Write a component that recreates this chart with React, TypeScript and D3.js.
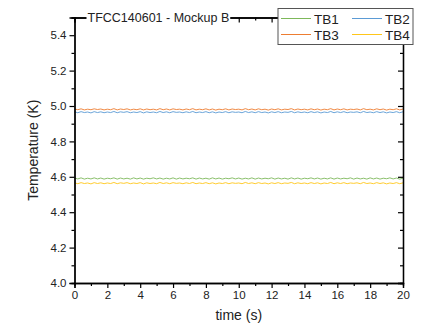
import * as d3 from "d3";
import { useEffect, useRef } from "react";

// sampled every 0.2 s from 0 to 20 s
const timeStep = 0.2;

const tb1 = [
  4.593, 4.588, 4.594, 4.587, 4.592, 4.588, 4.594, 4.588, 4.593, 4.587,
  4.592, 4.589, 4.594, 4.587, 4.593, 4.588, 4.592, 4.587, 4.594, 4.588,
  4.593, 4.587, 4.592, 4.589, 4.594, 4.588, 4.593, 4.587, 4.592, 4.588,
  4.594, 4.587, 4.593, 4.588, 4.592, 4.589, 4.594, 4.587, 4.593, 4.588,
  4.592, 4.587, 4.594, 4.588, 4.593, 4.587, 4.592, 4.589, 4.594, 4.588,
  4.593, 4.587, 4.592, 4.588, 4.594, 4.587, 4.593, 4.588, 4.592, 4.589,
  4.594, 4.587, 4.593, 4.588, 4.592, 4.587, 4.594, 4.588, 4.593, 4.587,
  4.592, 4.589, 4.594, 4.588, 4.593, 4.587, 4.592, 4.588, 4.594, 4.587,
  4.593, 4.588, 4.592, 4.589, 4.594, 4.587, 4.593, 4.588, 4.592, 4.587,
  4.594, 4.588, 4.593, 4.587, 4.592, 4.589, 4.594, 4.588, 4.593, 4.587,
  4.592,
];

const tb2 = [
  4.967, 4.962, 4.968, 4.963, 4.966, 4.961, 4.968, 4.963, 4.967, 4.962,
  4.966, 4.963, 4.969, 4.962, 4.967, 4.964, 4.968, 4.962, 4.966, 4.963,
  4.968, 4.961, 4.967, 4.963, 4.966, 4.962, 4.969, 4.963, 4.967, 4.962,
  4.968, 4.964, 4.966, 4.962, 4.967, 4.963, 4.969, 4.962, 4.966, 4.963,
  4.968, 4.962, 4.967, 4.961, 4.966, 4.963, 4.968, 4.962, 4.967, 4.964,
  4.966, 4.962, 4.969, 4.963, 4.967, 4.962, 4.968, 4.963, 4.966, 4.961,
  4.967, 4.963, 4.968, 4.962, 4.966, 4.964, 4.969, 4.962, 4.967, 4.963,
  4.966, 4.962, 4.968, 4.963, 4.967, 4.961, 4.966, 4.963, 4.969, 4.962,
  4.967, 4.963, 4.968, 4.962, 4.966, 4.964, 4.967, 4.962, 4.969, 4.963,
  4.966, 4.962, 4.968, 4.963, 4.967, 4.961, 4.966, 4.963, 4.968, 4.962,
  4.967,
];

const tb3 = [
  4.983, 4.979, 4.984, 4.978, 4.982, 4.979, 4.984, 4.980, 4.983, 4.978,
  4.982, 4.979, 4.985, 4.978, 4.983, 4.980, 4.984, 4.978, 4.982, 4.979,
  4.984, 4.978, 4.983, 4.979, 4.982, 4.978, 4.985, 4.979, 4.983, 4.978,
  4.984, 4.980, 4.982, 4.978, 4.983, 4.979, 4.985, 4.978, 4.982, 4.979,
  4.984, 4.978, 4.983, 4.977, 4.982, 4.979, 4.984, 4.978, 4.983, 4.980,
  4.982, 4.978, 4.985, 4.979, 4.983, 4.978, 4.984, 4.979, 4.982, 4.977,
  4.983, 4.979, 4.984, 4.978, 4.982, 4.980, 4.985, 4.978, 4.983, 4.979,
  4.982, 4.978, 4.984, 4.979, 4.983, 4.977, 4.982, 4.979, 4.985, 4.978,
  4.983, 4.979, 4.984, 4.978, 4.982, 4.980, 4.983, 4.978, 4.985, 4.979,
  4.982, 4.978, 4.984, 4.979, 4.983, 4.977, 4.982, 4.979, 4.984, 4.978,
  4.983,
];

const tb4 = [
  4.566, 4.561, 4.567, 4.562, 4.565, 4.560, 4.567, 4.562, 4.566, 4.561,
  4.565, 4.562, 4.568, 4.561, 4.566, 4.563, 4.567, 4.561, 4.565, 4.562,
  4.567, 4.560, 4.566, 4.562, 4.565, 4.561, 4.568, 4.562, 4.566, 4.561,
  4.567, 4.563, 4.565, 4.561, 4.566, 4.562, 4.568, 4.561, 4.565, 4.562,
  4.567, 4.561, 4.566, 4.560, 4.565, 4.562, 4.567, 4.561, 4.566, 4.563,
  4.565, 4.561, 4.568, 4.562, 4.566, 4.561, 4.567, 4.562, 4.565, 4.560,
  4.566, 4.562, 4.567, 4.561, 4.565, 4.563, 4.568, 4.561, 4.566, 4.562,
  4.565, 4.561, 4.567, 4.562, 4.566, 4.560, 4.565, 4.562, 4.568, 4.561,
  4.566, 4.562, 4.567, 4.561, 4.565, 4.563, 4.566, 4.561, 4.568, 4.562,
  4.565, 4.561, 4.567, 4.562, 4.566, 4.560, 4.565, 4.562, 4.567, 4.561,
  4.566,
];

const seriesNames = ["TB1", "TB2", "TB3", "TB4"];
const seriesColors = ["#7DB85A", "#5B9BD5", "#ED7D31", "#FFC61A"];
const xTicks = [0, 2, 4, 6, 8, 10, 12, 14, 16, 18, 20];
const yTicks = [4.0, 4.2, 4.4, 4.6, 4.8, 5.0, 5.2, 5.4];
const plotTitle = "TFCC140601 - Mockup B";

const W = 433;
const H = 325;
const FONT = "'Liberation Sans', Arial, sans-serif";

const App = () => {
  const ref = useRef<SVGSVGElement>(null);

  useEffect(() => {
    const margin = { top: 17.5, right: 30, bottom: 42, left: 74.5 },
      width = W - margin.left - margin.right,
      height = H - margin.top - margin.bottom;

    const root = d3.select(ref.current);
    root.selectAll("*").remove();

    const svg = root
      .append("g")
      .attr("transform", `translate(${margin.left},${margin.top})`);

    const x = d3.scaleLinear().domain([0, 20]).range([0, width]);
    const y = d3.scaleLinear().domain([4.0, 5.5]).range([height, 0]);

    const minorX = d3.range(1, 20, 2);
    const minorY = d3.range(4.1, 5.5, 0.2);

    // series lines
    const line = d3
      .line<number>()
      .x((_, i) => x(i * timeStep))
      .y((d) => y(d));

    [tb1, tb2, tb3, tb4].forEach((vals, i) => {
      svg
        .append("path")
        .datum(vals)
        .attr("d", line)
        .attr("fill", "none")
        .attr("stroke", seriesColors[i])
        .attr("stroke-width", 0.9);
    });

    const styleAxis = (g) => {
      g.select(".domain").attr("stroke", "#000").attr("stroke-width", 1.3);
      g.selectAll(".tick line").attr("stroke", "#000").attr("stroke-width", 1.2);
      g.selectAll("text")
        .attr("font-family", FONT)
        .attr("font-size", 11.5)
        .attr("fill", "#222");
    };

    // bottom axis
    svg
      .append("g")
      .attr("transform", `translate(0,${height})`)
      .call(d3.axisBottom(x).tickValues(xTicks).tickSize(5).tickPadding(3).tickFormat(d3.format("d")))
      .call(styleAxis);
    svg
      .append("g")
      .attr("transform", `translate(0,${height})`)
      .call(d3.axisBottom(x).tickValues(minorX).tickSize(3).tickFormat(() => ""))
      .call(styleAxis);

    // left axis
    svg
      .append("g")
      .call(d3.axisLeft(y).tickValues(yTicks).tickSize(5).tickPadding(3).tickFormat(d3.format(".1f")))
      .call(styleAxis);
    svg
      .append("g")
      .call(d3.axisLeft(y).tickValues(minorY).tickSize(3).tickFormat(() => ""))
      .call(styleAxis);

    // top axis, ticks inward
    svg
      .append("g")
      .call(d3.axisTop(x).tickValues(xTicks).tickSize(-5).tickFormat(() => ""))
      .call(styleAxis);
    svg
      .append("g")
      .call(d3.axisTop(x).tickValues(minorX).tickSize(-3).tickFormat(() => ""))
      .call(styleAxis);

    // right axis, ticks inward
    svg
      .append("g")
      .attr("transform", `translate(${width},0)`)
      .call(d3.axisRight(y).tickValues(yTicks).tickSize(-5).tickFormat(() => ""))
      .call(styleAxis);
    svg
      .append("g")
      .attr("transform", `translate(${width},0)`)
      .call(d3.axisRight(y).tickValues(minorY).tickSize(-3).tickFormat(() => ""))
      .call(styleAxis);

    // axis titles
    svg
      .append("text")
      .attr("x", width / 2)
      .attr("y", height + 37)
      .attr("text-anchor", "middle")
      .attr("font-family", FONT)
      .attr("font-size", 14)
      .attr("fill", "#222")
      .text("time (s)");

    svg
      .append("text")
      .attr("transform", `translate(${-37},${height / 2}) rotate(-90)`)
      .attr("text-anchor", "middle")
      .attr("font-family", FONT)
      .attr("font-size", 14)
      .attr("fill", "#222")
      .text("Temperature (K)");

    // title sitting on the top axis, with a white patch behind it
    const titleBg = svg.append("rect").attr("fill", "#fff");
    const title = svg
      .append("text")
      .attr("x", 13)
      .attr("y", 4.5)
      .attr("font-family", FONT)
      .attr("font-size", 12.5)
      .attr("fill", "#222")
      .text(plotTitle);
    const tb = (title.node() as SVGTextElement).getBBox();
    titleBg
      .attr("x", tb.x - 1)
      .attr("y", tb.y + 1)
      .attr("width", tb.width + 2)
      .attr("height", tb.height - 2);

    // legend
    const lg = svg.append("g").attr("transform", `translate(${278 - margin.left},${8.5 - margin.top})`);
    lg.append("rect")
      .attr("width", 135)
      .attr("height", 36)
      .attr("fill", "#fff")
      .attr("stroke", "#555")
      .attr("stroke-width", 1);
    seriesNames.forEach((name, i) => {
      const col = i % 2;
      const row = Math.floor(i / 2);
      const gx = 3 + col * 71;
      const gy = 10 + row * 16;
      lg.append("line")
        .attr("x1", gx)
        .attr("x2", gx + 30)
        .attr("y1", gy)
        .attr("y2", gy)
        .attr("stroke", seriesColors[i])
        .attr("stroke-width", 1);
      lg.append("text")
        .attr("x", gx + 33)
        .attr("y", gy + 5)
        .attr("font-family", FONT)
        .attr("font-size", 13.5)
        .attr("fill", "#222")
        .text(name);
    });
  }, []);

  return (
    <svg
      ref={ref}
      width={W}
      height={H}
      style={{ position: "absolute", left: 0, top: 0, background: "#fff" }}
    />
  );
};

export default App;
